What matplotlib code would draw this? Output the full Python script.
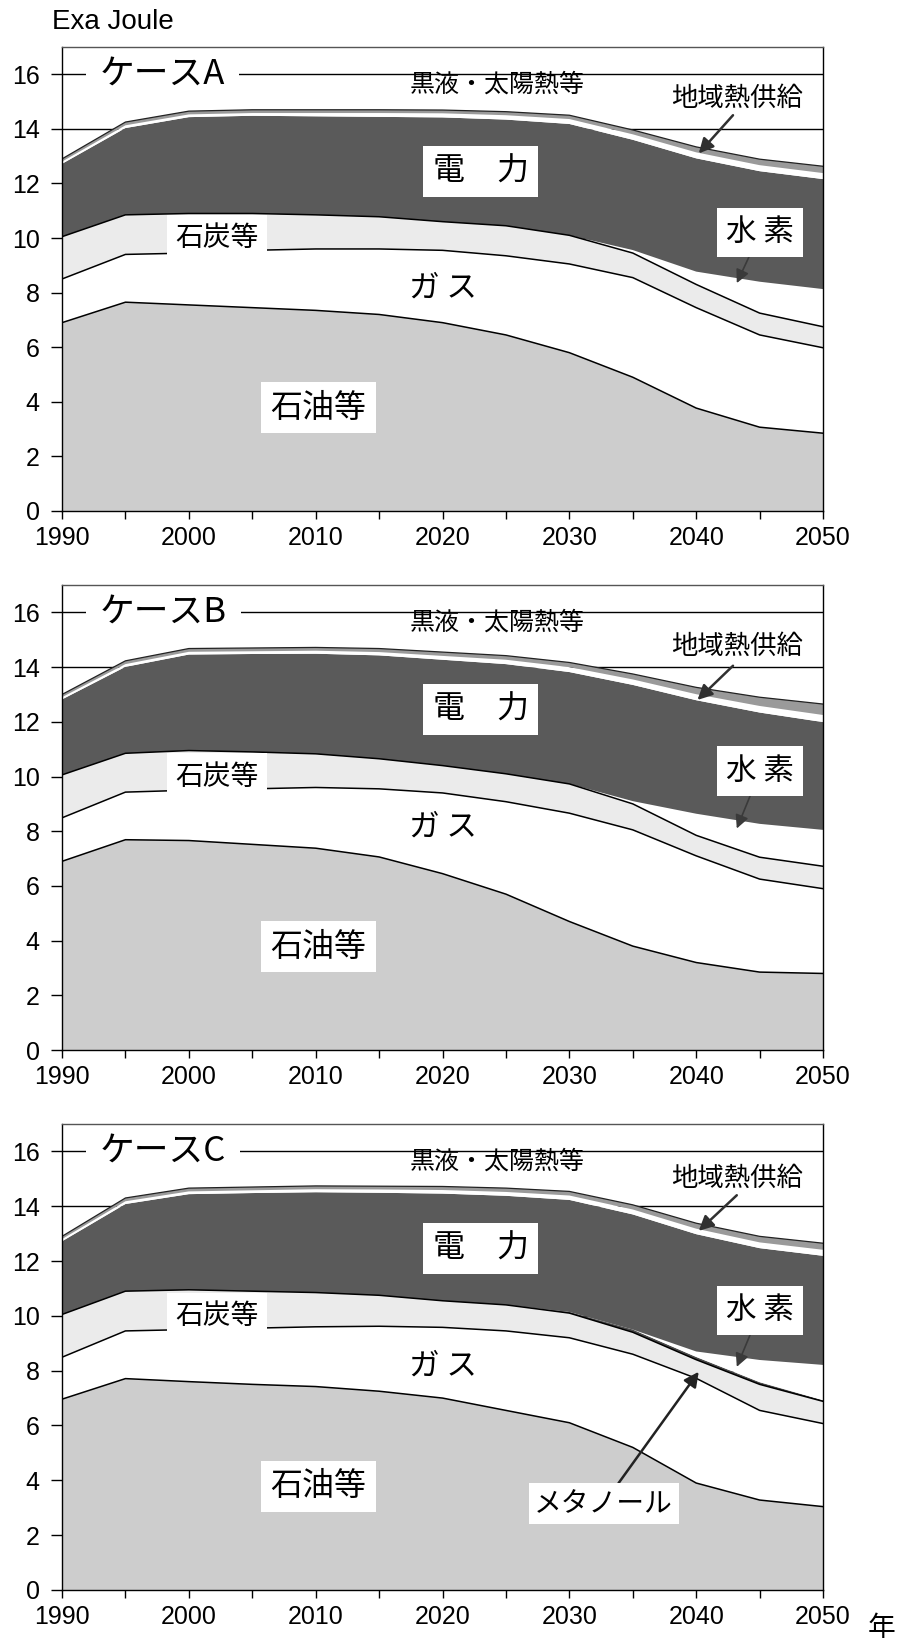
import matplotlib
matplotlib.use("Agg")
import matplotlib.pyplot as plt
import numpy as np

plt.rcParams['font.family'] = ['Noto Sans CJK JP', 'DejaVu Sans']

years = [1990, 1995, 2000, 2005, 2010, 2015, 2020, 2025, 2030, 2035, 2040, 2045, 2050]

# case A (Exa Joule)
oil_a = [6.9, 7.65, 7.55, 7.45, 7.35, 7.2, 6.9, 6.45, 5.8, 4.9, 3.77, 3.07, 2.85]
gas_a = [1.6, 1.75, 1.9, 2.1, 2.25, 2.4, 2.65, 2.9, 3.25, 3.65, 3.68, 3.38, 3.13]
coal_a = [1.55, 1.45, 1.45, 1.35, 1.25, 1.18, 1.05, 1.1, 1.05, 0.9, 0.85, 0.8, 0.77]
h2_a = [0, 0, 0, 0, 0, 0, 0, 0, 0, 0.11, 0.47, 1.15, 1.38]
elec_a = [2.67, 3.18, 3.53, 3.58, 3.61, 3.66, 3.82, 3.89, 4.08, 4.04, 4.15, 4.05, 4.03]
dh_a = [0.08, 0.1, 0.1, 0.1, 0.12, 0.14, 0.15, 0.16, 0.18, 0.2, 0.22, 0.22, 0.22]
bl_a = [0.1, 0.12, 0.12, 0.12, 0.12, 0.12, 0.12, 0.13, 0.14, 0.16, 0.2, 0.22, 0.25]

# case B
oil_b = [6.9, 7.69, 7.66, 7.52, 7.38, 7.06, 6.45, 5.7, 4.7, 3.8, 3.2, 2.85, 2.8]
gas_b = [1.59, 1.74, 1.84, 2.03, 2.22, 2.49, 2.95, 3.38, 3.96, 4.25, 3.9, 3.4, 3.1]
coal_b = [1.57, 1.42, 1.45, 1.35, 1.23, 1.1, 1.0, 1.02, 1.07, 0.95, 0.75, 0.8, 0.82]
h2_b = [0, 0, 0, 0, 0, 0, 0, 0, 0, 0.1, 0.79, 1.22, 1.33]
elec_b = [2.76, 3.16, 3.51, 3.58, 3.66, 3.78, 3.87, 4.01, 4.09, 4.25, 4.15, 4.07, 3.94]
dh_b = [0.08, 0.1, 0.1, 0.1, 0.11, 0.12, 0.14, 0.16, 0.18, 0.2, 0.22, 0.24, 0.26]
bl_b = [0.1, 0.12, 0.12, 0.12, 0.12, 0.13, 0.14, 0.15, 0.17, 0.2, 0.25, 0.32, 0.4]

# case C (with methanol)
oil_c = [6.96, 7.71, 7.6, 7.5, 7.42, 7.25, 7.0, 6.55, 6.1, 5.2, 3.9, 3.28, 3.04]
gas_c = [1.53, 1.74, 1.9, 2.05, 2.18, 2.37, 2.58, 2.9, 3.1, 3.4, 3.82, 3.27, 3.03]
coal_c = [1.56, 1.45, 1.45, 1.35, 1.25, 1.13, 0.97, 0.95, 0.9, 0.8, 0.68, 0.95, 0.81]
meoh_c = [0, 0, 0, 0, 0, 0, 0, 0, 0.04, 0.1, 0.1, 0.08, 0.04]
h2_c = [0, 0, 0, 0, 0, 0, 0, 0, 0, 0, 0.2, 0.81, 1.29]
elec_c = [2.67, 3.18, 3.49, 3.58, 3.66, 3.74, 3.91, 3.98, 4.09, 4.2, 4.28, 4.08, 3.98]
dh_c = [0.08, 0.1, 0.1, 0.1, 0.11, 0.12, 0.13, 0.14, 0.16, 0.18, 0.2, 0.21, 0.22]
bl_c = [0.1, 0.12, 0.12, 0.12, 0.12, 0.12, 0.13, 0.14, 0.15, 0.17, 0.2, 0.22, 0.24]

zeros = [0] * len(years)

c_oil = '#cdcdcd'
c_gas = '#ffffff'
c_coal = '#ebebeb'
c_meoh = '#4a4a4a'
c_h2 = '#ffffff'
c_elec = '#5a5a5a'
c_dh = '#ffffff'
c_bl = '#9a9a9a'

num_font = 'Liberation Sans'


def panel(ax, case, oil, gas, coal, meoh, h2, elec, dh, bl, dh_text_y, dh_tail, dh_head, h2_tip):
    ax.stackplot(years, oil, gas, coal, meoh, h2, elec, dh, bl,
                 colors=[c_oil, c_gas, c_coal, c_meoh, c_h2, c_elec, c_dh, c_bl],
                 lw=0, zorder=2)
    oil_top = np.array(oil)
    gas_top = oil_top + np.array(gas)
    coal_top = gas_top + np.array(coal)
    total = coal_top + np.array(meoh) + np.array(h2) + np.array(elec) + np.array(dh) + np.array(bl)
    for b in [oil_top, gas_top, coal_top]:
        ax.plot(years, b, color='black', lw=1.1, zorder=3)
    ax.plot(years, total, color='#222222', lw=0.9, zorder=3)

    ax.set_xlim(1990, 2050)
    ax.set_ylim(0, 17)
    ax.set_yticks(range(0, 17, 2))
    ax.set_xticks(range(1990, 2051, 10))
    ax.set_xticks(range(1995, 2050, 10), minor=True)
    ax.tick_params(axis='y', direction='out', length=8, width=1, labelsize=18, pad=8)
    ax.tick_params(axis='x', which='both', direction='out', length=6, width=1, labelsize=18, pad=5)
    for lab in ax.get_xticklabels() + ax.get_yticklabels():
        lab.set_fontfamily(num_font)
    ax.grid(axis='y', color='black', lw=1)
    ax.set_axisbelow(True)
    for s in ax.spines.values():
        s.set_linewidth(1)
        s.set_zorder(10)
    ax.spines['top'].set_color('#555555')

    ax.text(1993.0, 16.0, case, fontsize=25, va='center', ha='left',
            bbox=dict(boxstyle='square,pad=0.4', fc='white', ec='none'), zorder=5)
    ax.text(2024.3, 15.62, '黒液・太陽熱等', fontsize=18, va='center', ha='center', zorder=5)
    ax.text(2023.0, 12.45, '電　力', fontsize=23, va='center', ha='center',
            bbox=dict(boxstyle='square,pad=0.3', fc='white', ec='none'), zorder=5)
    ax.text(2002.2, 10.0, '石炭等', fontsize=20, va='center', ha='center',
            bbox=dict(boxstyle='square,pad=0.3', fc='white', ec='none'), zorder=5)
    ax.text(2020.0, 8.15, 'ガ ス', fontsize=22, va='center', ha='center', zorder=5)
    ax.text(2010.2, 3.78, '石油等', fontsize=23, va='center', ha='center',
            bbox=dict(boxstyle='square,pad=0.3', fc='white', ec='none'), zorder=5)

    ax.text(2043.2, dh_text_y, '地域熱供給', fontsize=19, va='center', ha='center', zorder=6)
    ax.annotate('', xy=dh_head, xytext=dh_tail, zorder=6,
                arrowprops=dict(arrowstyle='-|>', color='#303030', lw=1.8,
                                mutation_scale=22, shrinkA=0, shrinkB=0))
    ax.annotate('水 素', xy=h2_tip, xytext=(2045.05, 10.2),
                fontsize=22, va='center', ha='center', zorder=6,
                bbox=dict(boxstyle='square,pad=0.3', fc='white', ec='none'),
                arrowprops=dict(arrowstyle='-|>', color='#3a3a3a', lw=1.2,
                                mutation_scale=20, shrinkA=0, shrinkB=0))


fig = plt.figure(figsize=(9, 16.43), dpi=100)
ax_a = fig.add_axes([0.0689, 0.6890, 0.8456, 0.2824])
ax_b = fig.add_axes([0.0689, 0.3609, 0.8456, 0.2830])
ax_c = fig.add_axes([0.0689, 0.0323, 0.8456, 0.2836])

panel(ax_a, 'ケースA', oil_a, gas_a, coal_a, zeros, h2_a, elec_a, dh_a, bl_a,
      15.1, (2042.9, 14.5), (2040.2, 13.1), (2043.2, 8.35))
panel(ax_b, 'ケースB', oil_b, gas_b, coal_b, zeros, h2_b, elec_b, dh_b, bl_b,
      14.75, (2042.9, 14.05), (2040.1, 12.8), (2043.2, 8.1))
panel(ax_c, 'ケースC', oil_c, gas_c, coal_c, meoh_c, h2_c, elec_c, dh_c, bl_c,
      15.0, (2043.2, 14.4), (2040.2, 13.1), (2043.2, 8.14))

ax_c.annotate('メタノール', xy=(2040.2, 7.96), xytext=(2032.7, 3.14),
              fontsize=20, va='center', ha='center', zorder=6,
              bbox=dict(boxstyle='square,pad=0.2', fc='white', ec='none'),
              arrowprops=dict(arrowstyle='-|>', color='#222222', lw=1.8,
                              mutation_scale=22, shrinkA=0, shrinkB=0))

fig.text(52 / 900, 1 - 22 / 1643, 'Exa Joule', fontsize=20, va='center', ha='left',
         family=num_font)
fig.text(882 / 900, 1 - 1628 / 1643, '年', fontsize=20, va='center', ha='center')

fig.savefig('out.png', dpi=100, facecolor='white')
